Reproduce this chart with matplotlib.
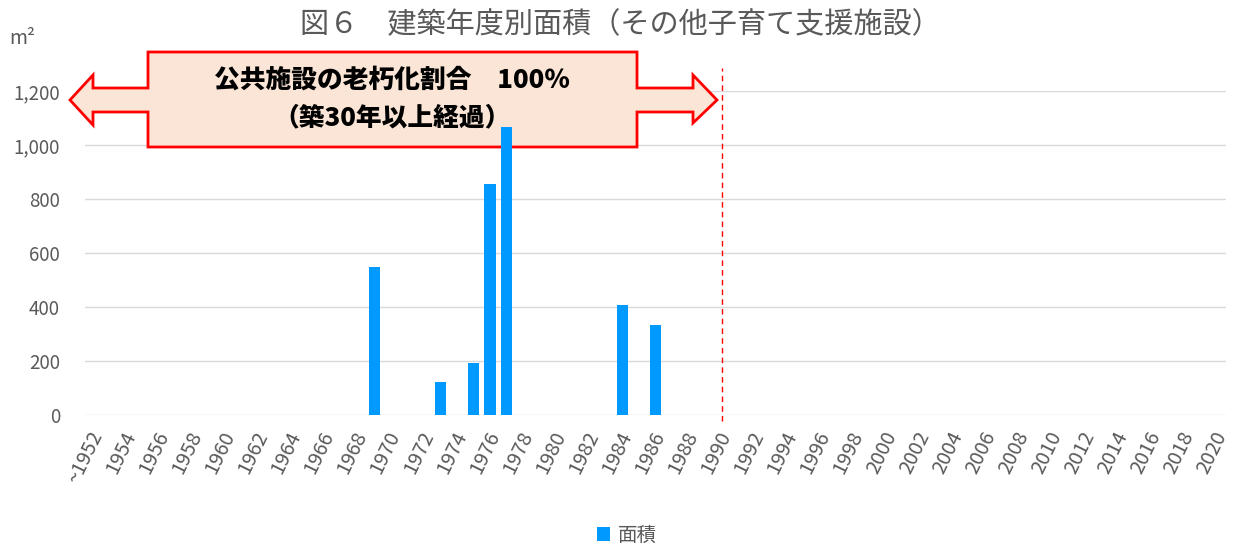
import matplotlib
matplotlib.use("Agg")
import matplotlib.pyplot as plt
import matplotlib.transforms as mtransforms
from matplotlib.patches import Polygon

plt.rcParams['font.family'] = ['Noto Sans CJK JP', 'DejaVu Sans']

# data: building year vs floor area (m2)
years = list(range(1952, 2021))
area_by_year = {1969: 550, 1973: 122, 1975: 192, 1976: 856, 1977: 1065, 1984: 408, 1986: 333}
areas = [area_by_year.get(y, 0) for y in years]
tick_labels = [("~" if y == 1952 else "") + str(y) if (y - 1952) % 2 == 0 else "" for y in years]
yticks = [0, 200, 400, 600, 800, 1000, 1200]
cutoff_year = 1990

title = "図６　建築年度別面積（その他子育て支援施設）"
note1 = "公共施設の老朽化割合　100％"
note2 = "（築30年以上経過）"

W, H = 1233, 545
fig = plt.figure(figsize=(W / 100, H / 100), dpi=100)
ax = fig.add_axes([85 / W, 1 - 415 / H, (1226 - 85) / W, (415 - 91) / H])

gray = "#595959"
x = list(range(len(years)))
ax.bar(x, areas, width=0.7, color="#0099FF", label="面積", zorder=3)
ax.set_xlim(-0.5, len(years) - 0.5)
ax.set_ylim(0, 1200)
ax.set_yticks(yticks)
ax.set_yticklabels([f"{v:,}" for v in yticks], fontsize=13.5, color=gray)
ax.set_xticks(x)
ax.set_xticklabels(tick_labels, rotation=64, ha="right", rotation_mode="anchor",
                   fontsize=14.5, color=gray)
ax.tick_params(length=0)
ax.tick_params(axis="y", pad=18)
ax.tick_params(axis="x", pad=9)
shift = mtransforms.ScaledTranslation(-5 / 100, 0, fig.dpi_scale_trans)
for lab in ax.get_xticklabels():
    lab.set_transform(lab.get_transform() + shift)
ax.grid(axis="y", color="#d9d9d9", lw=1, zorder=0)
for s in ax.spines.values():
    s.set_visible(False)

# 30-year line
cx = years.index(cutoff_year)
ax.axvline(cx, ymin=-0.02, ymax=1.07, color="red", ls=(0, (4, 3)), lw=1, clip_on=False, zorder=4)

def px(xp, yp):
    return (xp / W, 1 - yp / H)

shape = [(70, 100), (93, 75), (93, 88), (148, 88), (148, 52), (637, 52), (637, 88),
         (693, 88), (693, 75), (717, 100), (693, 123), (693, 112), (637, 112),
         (637, 147), (148, 147), (148, 112), (93, 112), (93, 125)]
poly = Polygon([px(a, b) for a, b in shape], closed=True, transform=fig.transFigure,
               facecolor="#FBE5D6", edgecolor="red", lw=2, zorder=2.5, clip_on=False)
ax.add_patch(poly)
ax.text(392 / W, 1 - 80 / H, note1, ha="center", va="center", fontsize=18.5,
        fontweight="heavy", color="black", zorder=2.6, transform=fig.transFigure)
ax.text(392 / W, 1 - 117 / H, note2, ha="center", va="center", fontsize=18.5,
        fontweight="heavy", color="black", zorder=2.6, transform=fig.transFigure)

fig.text(620 / W, 1 - 25 / H, title, ha="center", va="center", fontsize=21, color=gray)
fig.text(22 / W, 1 - 38 / H, "m²", ha="center", va="center", fontsize=14, color=gray)

ax.legend(loc="center", bbox_to_anchor=(627 / W, 1 - 535 / H), bbox_transform=fig.transFigure,
          frameon=False, fontsize=14, labelcolor=gray, handlelength=0.7, handleheight=0.7,
          handletextpad=0.4)

fig.savefig("out.png", dpi=100)
